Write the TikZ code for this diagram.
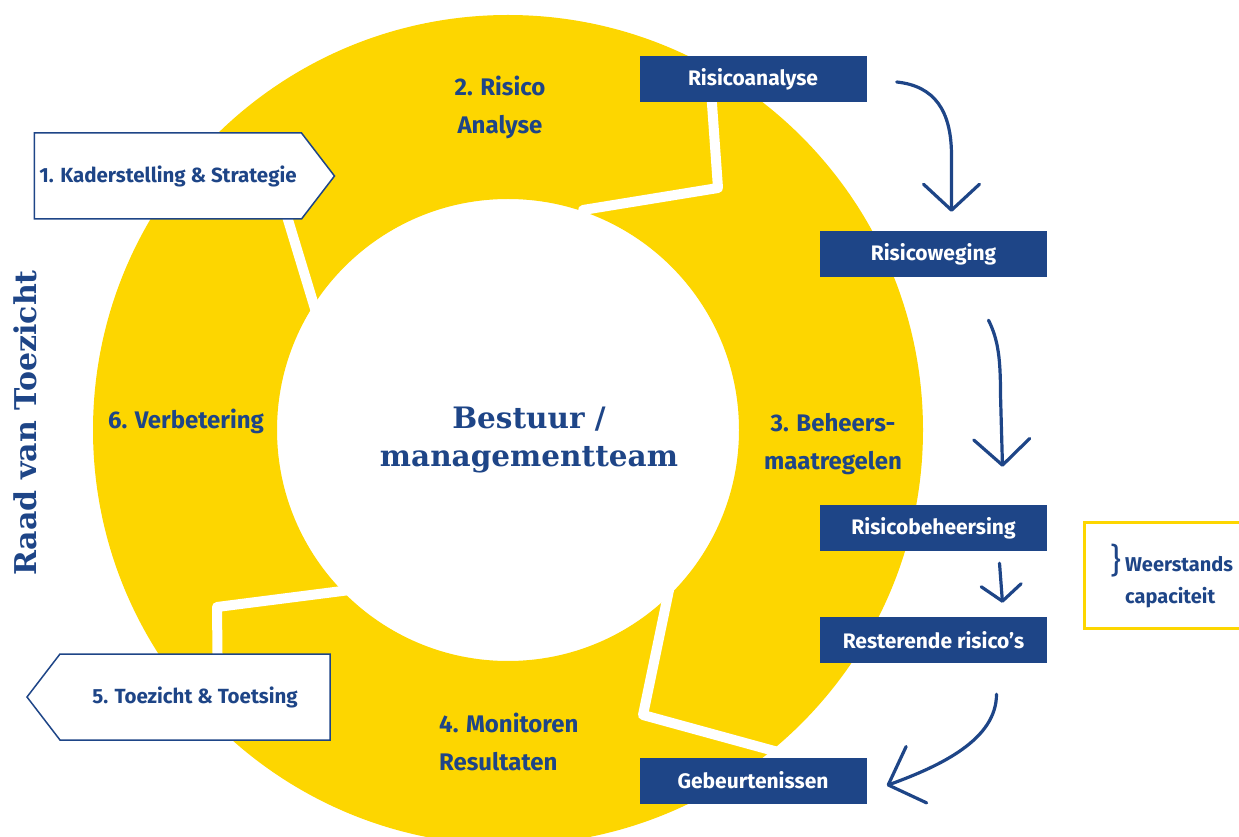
\documentclass[tikz,border=0pt]{standalone}
\usepackage{fontspec}
\usepackage{tikz}
\usetikzlibrary{arrows.meta}
\usetikzlibrary{shapes}
\usetikzlibrary{positioning}
\newfontfamily\lblfont{Fira Sans}
\newfontfamily\slabfont{DejaVu Serif}
\definecolor{navy}{RGB}{30,69,135}
\definecolor{geel}{RGB}{253,214,0}
\tikzset{%
	blok/.style={rectangle,fill=navy,text=white,minimum width=227,minimum height=46,inner sep=0,font=\lblfont\bfseries\fontsize{21}{24}\selectfont},
	kader/.style={signal,draw=navy,line width=1.5,fill=white,minimum width=300,minimum height=86,signal pointer angle=105,inner sep=0,text=navy,font=\lblfont\bfseries\fontsize{20.5}{24}\selectfont},
	lbl/.style={text=navy,align=center,inner sep=0,font=\lblfont\bfseries\fontsize{24}{38}\selectfont},
	slab/.style={text=navy,align=center,inner sep=0,font=\slabfont\bfseries\fontsize{29.5}{38}\selectfont},
	scheid/.style={white,line width=10,line join=round,line cap=round},
	pijl/.style={draw=navy,line width=3.2,line cap=round,arrows={-Straight Barb[length=26pt,width=56pt,round]}},
	kpijl/.style={pijl,arrows={-Straight Barb[length=16pt,width=40pt,round]}},
}
\begin{document}
\begin{tikzpicture}[x=1pt,y=1pt]
	\useasboundingbox (0,0) rectangle (1239,836);
	% ring
	\fill[geel,even odd rule] (508,406) circle[radius=415] circle[radius=231];
	\draw[scheid] (282,636) -- (316,524);
	\draw[scheid] (583,626) -- (718,648) -- (709,774);
	\draw[scheid] (669,246) -- (643,121) -- (778,84);
	\draw[scheid] (350,246) -- (217,229) -- (218,136);
	
	% fasen
	\node (k1) at (168,660) [kader,signal to=east] {1. Kaderstelling \& Strategie};
	\node (k5) at (195,139) [kader,signal to=west,minimum width=303] {5. Toezicht \& Toetsing};
	\node (l2) at (500,729) [lbl] {2. Risico\\Analyse};
	\node (l3) at (833,392) [lbl] {3. Beheers-\\maatregelen};
	\node (l4) at (439,94) [lbl,anchor=west,align=left] {4. Monitoren\\Resultaten};
	\node (l6) at (186,415) [lbl] {6. Verbetering};
	\node (midden) at (529,396) [slab] {Bestuur /\\managementteam};
	\node (raad) at (25,413) [slab,rotate=90,font=\slabfont\bfseries\fontsize{30}{32}\selectfont] {Raad van Toezicht};
	
	% risicostappen
	\node (ra) at (753,757) [blok] {Risicoanalyse};
	\node (rw) at (933.5,582) [blok] {Risicoweging};
	\node (rb) at (933.5,308) [blok] {Risicobeheersing};
	\node (rr) at (933.5,196) [blok] {Resterende risico’s};
	\node (gb) at (753,55.5) [blok] {Gebeurtenissen};
	
	\draw[pijl] ([xshift=30,yshift=-3]ra.east) .. controls +(38,-4) and +(0,45) .. ([xshift=18,yshift=75]rw.north) -- ([xshift=18,yshift=19]rw.north);
	\draw[pijl] ([xshift=55,yshift=-43]rw.south) .. controls +(10,-20) and +(0,35) .. ([xshift=67,yshift=110]rb.north) -- ([xshift=69,yshift=38]rb.north);
	\draw[kpijl] ([xshift=66,yshift=-12]rb.south) -- ([xshift=69,yshift=14]rr.north);
	\draw[pijl,arrows={-Straight Barb[length=30pt,width=60pt,round]}] ([xshift=63,yshift=-31]rr.south) .. controls +(0,-45) and +(55,20) .. ([xshift=20,yshift=-5]gb.east);
	
	% weerstandscapaciteit
	\node (wk) at (1083,315) [anchor=north west,draw=geel,line width=3,minimum width=170,minimum height=106] {};
	\node (weer) at (1125,280) [anchor=north west,text=navy,align=left,inner sep=0,font=\lblfont\bfseries\fontsize{20}{32}\selectfont] {Weerstands\\capaciteit};
	\node (haak) at ([xshift=-3,yshift=12]weer.north west) [anchor=north east,inner sep=0,text=navy,font=\lblfont\fontsize{34}{34}\selectfont] {\}};
\end{tikzpicture}
\end{document}
